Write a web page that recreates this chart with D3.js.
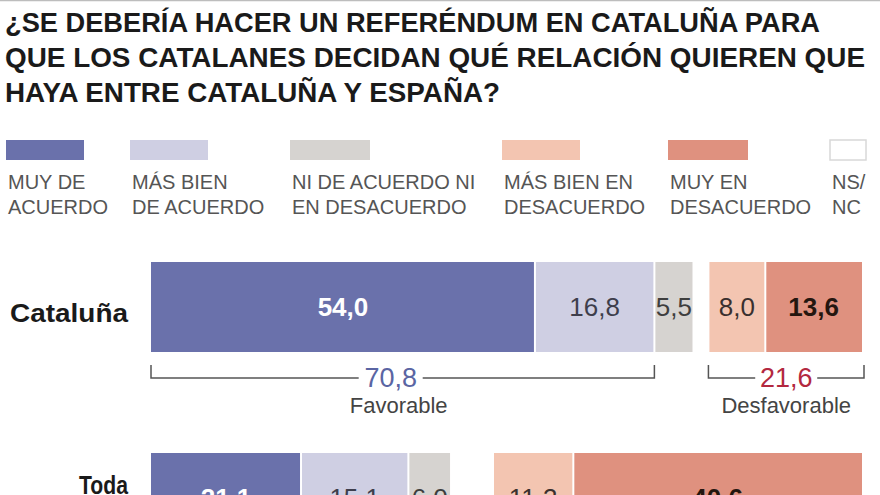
<!DOCTYPE html>
<html>
<head>
<meta charset="utf-8">
<script src="https://cdn.jsdelivr.net/npm/d3@7"></script>
<style>
  html, body { margin: 0; padding: 0; background: #fff; }
  svg { display: block; font-family: "Liberation Sans", Arial, Helvetica, sans-serif; }
</style>
</head>
<body>
<svg id="chart" width="880" height="495"></svg>
<script>
// ---------- DATA ----------
const titleLines = [
  "¿SE DEBERÍA HACER UN REFERÉNDUM  EN CATALUÑA PARA",
  "QUE LOS CATALANES DECIDAN QUÉ RELACIÓN QUIEREN QUE",
  "HAYA ENTRE CATALUÑA Y ESPAÑA?"
];
const categoryKeys = ["muy", "bienDe", "ni", "nsnc", "bienEn", "muyEn"];   // bar stacking order
const legendKeys   = ["muy", "bienDe", "ni", "bienEn", "muyEn", "nsnc"];   // legend order
const legendLabels = {
  muy:    ["MUY DE", "ACUERDO"],
  bienDe: ["MÁS BIEN", "DE ACUERDO"],
  ni:     ["NI DE ACUERDO NI", "EN DESACUERDO"],
  bienEn: ["MÁS BIEN EN", "DESACUERDO"],
  muyEn:  ["MUY EN", "DESACUERDO"],
  nsnc:   ["NS/", "NC"]
};
const rows = ["Cataluña", "Toda España"];
const rowLabelLines = [["Cataluña"], ["Toda", "España"]];
const cataluna    = [54.0, 16.8, 5.5, 2.1, 8.0, 13.6];
const todaEspana  = [21.1, 15.1, 6.0, 5.9, 11.3, 40.6];
const seriesByRow = [cataluna, todaEspana];
const labelByRow  = [
  ["54,0", "16,8", "5,5", "", "8,0", "13,6"],
  ["21,1", "15,1", "6,0", "", "11,3", "40,6"]
];
const favorableTotal    = "70,8";
const desfavorableTotal = "21,6";

// ---------- STYLES ----------
const colors = {
  muy: "#6a71ab", bienDe: "#cfcfe3", ni: "#d6d3d0",
  nsnc: "#ffffff", bienEn: "#f3c5b1", muyEn: "#df917f"
};
const valueStyle = {
  muy:    { fill: "#ffffff", weight: "bold" },
  bienDe: { fill: "#3e3e4c", weight: "normal" },
  ni:     { fill: "#3e3e3e", weight: "normal" },
  nsnc:   { fill: "#3e3e3e", weight: "normal" },
  bienEn: { fill: "#3a302e", weight: "normal" },
  muyEn:  { fill: "#24160f", weight: "bold" }
};

const svg = d3.select("#chart");

// thin top rule
svg.append("line").attr("x1", 0).attr("x2", 880).attr("y1", 0.5).attr("y2", 0.5)
  .attr("stroke", "#bdbdbd").attr("stroke-width", 1.5);

// ---------- TITLE ----------
const titleWidths = [815, 860, 495];
svg.append("g").selectAll("text").data(titleLines).join("text")
  .attr("x", 5)
  .attr("y", (d, i) => 32 + i * 35)
  .attr("font-size", 27)
  .attr("font-weight", "bold")
  .attr("fill", "#1a1a1a")
  .attr("textLength", (d, i) => titleWidths[i])
  .attr("lengthAdjust", "spacingAndGlyphs")
  .text(d => d);

// ---------- LEGEND ----------
const legendX = [6, 130, 290, 502, 668, 830];
const legendSwW = [78, 78, 80, 78, 80, 36];
const lg = svg.append("g");
legendKeys.forEach((k, i) => {
  lg.append("rect")
    .attr("x", legendX[i]).attr("y", 140)
    .attr("width", legendSwW[i]).attr("height", 20)
    .attr("fill", colors[k])
    .attr("stroke", k === "nsnc" ? "#d8d8d8" : "none")
    .attr("stroke-width", 1.5);
  legendLabels[k].forEach((line, j) => {
    lg.append("text")
      .attr("x", legendX[i] + 2)
      .attr("y", 189 + j * 25)
      .attr("font-size", 20)
      .attr("fill", "#555")
      .text(line);
  });
});

// ---------- SCALES ----------
const x = d3.scaleLinear().domain([0, 100]).range([151, 862]);
const y = d3.scaleBand().domain(rows).range([262, 543]).paddingInner(101 / 191).paddingOuter(0);

// ---------- BARS ----------
const rowLabelW = { "Cataluña": 118, "Toda": 49 };
const barsG = svg.append("g");
rows.forEach((row, r) => {
  const vals = seriesByRow[r];
  let cum = 0;
  const segs = vals.map((v, i) => {
    const s = { key: categoryKeys[i], start: cum, end: cum + v, label: labelByRow[r][i] };
    cum += v;
    return s;
  });
  const g = barsG.append("g");
  g.selectAll("rect").data(segs).join("rect")
    .attr("x", d => x(d.start) + (d.start > 0 ? 1 : 0))
    .attr("y", y(row))
    .attr("width", d => Math.max(0, x(d.end) - x(d.start) - (d.start > 0 ? 1 : 0) - (d.end < 99.95 ? 1 : 0)))
    .attr("height", y.bandwidth())
    .attr("fill", d => colors[d.key]);
  g.selectAll("text").data(segs.filter(d => d.label)).join("text")
    .attr("x", d => (x(d.start) + x(d.end)) / 2)
    .attr("y", y(row) + y.bandwidth() / 2 + 9)
    .attr("text-anchor", "middle")
    .attr("font-size", 26)
    .attr("font-weight", d => valueStyle[d.key].weight)
    .attr("fill", d => valueStyle[d.key].fill)
    .text(d => d.label);

  // row label
  const lines = rowLabelLines[r];
  const cy = y(row) + y.bandwidth() / 2;
  lines.forEach((line, j) => {
    const t = svg.append("text")
      .attr("x", 128)
      .attr("y", lines.length === 1 ? cy + 15 : cy - 4 + j * 28)
      .attr("text-anchor", "end")
      .attr("font-size", 26)
      .attr("font-weight", "bold")
      .attr("fill", "#1a1a1a")
      .text(line);
    if (rowLabelW[line]) t.attr("textLength", rowLabelW[line]).attr("lengthAdjust", "spacingAndGlyphs");
  });
});

// ---------- BRACKETS (Cataluña) ----------
const cat = cataluna;
const favEnd = cat[0] + cat[1];
const desStart = cat[0] + cat[1] + cat[2] + cat[3];
function bracket(x0, x1, numText, numColor, label, textW, cxOffset) {
  const g = svg.append("g");
  const ly = 378, ty = 365;
  const cx = (x0 + x1) / 2 + cxOffset;
  g.append("path")
    .attr("d", `M${x0},${ty}V${ly}H${cx - textW / 2 - 4}M${cx + textW / 2 + 4},${ly}H${x1}V${ty}`)
    .attr("fill", "none").attr("stroke", "#555").attr("stroke-width", 1.5);
  g.append("text")
    .attr("x", cx).attr("y", ly + 9)
    .attr("text-anchor", "middle").attr("font-size", 27)
    .attr("fill", numColor).text(numText);
  g.append("text")
    .attr("x", (x0 + x1) / 2 - (cxOffset ? 4 : 0)).attr("y", 413)
    .attr("text-anchor", "middle").attr("font-size", 22)
    .attr("fill", "#444").text(label);
}
bracket(x(0), x(favEnd), favorableTotal, "#5a65a3", "Favorable", 56, -12);
bracket(x(desStart), x(100) + 2, desfavorableTotal, "#b3283f", "Desfavorable", 54, 0);
</script>
</body>
</html>
